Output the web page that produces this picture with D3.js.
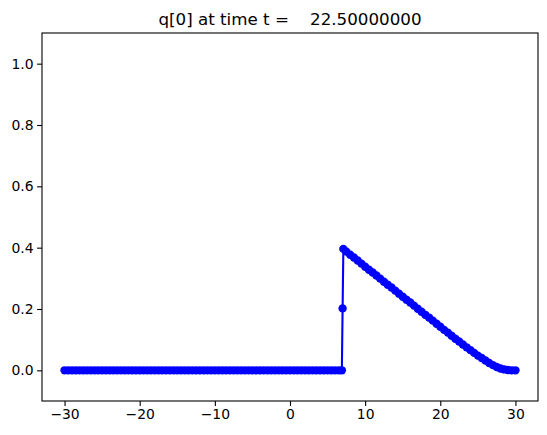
<!DOCTYPE html>
<html>
<head>
<meta charset="utf-8">
<script src="https://cdn.jsdelivr.net/npm/d3@7"></script>
<style>
    body { margin: 0; background: #fff; }
    text { font-family: "DejaVu Sans", sans-serif; fill: #000; }
</style>
</head>
<body>
<script>

// sample positions and q[0] values
var xs = [-30, -29.5, -29, -28.5, -28, -27.5, -27, -26.5, -26, -25.5, -25, -24.5, -24, -23.5, -23, -22.5,
    -22, -21.5, -21, -20.5, -20, -19.5, -19, -18.5, -18, -17.5, -17, -16.5, -16, -15.5, -15, -14.5,
    -14, -13.5, -13, -12.5, -12, -11.5, -11, -10.5, -10, -9.5, -9, -8.5, -8, -7.5, -7, -6.5,
    -6, -5.5, -5, -4.5, -4, -3.5, -3, -2.5, -2, -1.5, -1, -0.5, 0, 0.5,
    1, 1.5, 2, 2.5, 3, 3.5, 4, 4.5, 5, 5.5, 6, 6.5, 6.9, 7.0, 7.1, 7.5,
    8, 8.5, 9, 9.5, 10, 10.5, 11, 11.5, 12, 12.5, 13, 13.5, 14, 14.5, 15, 15.5,
    16, 16.5, 17, 17.5, 18, 18.5, 19, 19.5, 20, 20.5, 21, 21.5, 22, 22.5, 23, 23.5,
    24, 24.5, 25, 25.5, 26, 26.5, 27, 27.5, 28, 28.5, 29, 29.5, 30];

var qs = [0, 0, 0, 0, 0, 0, 0, 0, 0, 0, 0, 0, 0, 0, 0, 0,
    0, 0, 0, 0, 0, 0, 0, 0, 0, 0, 0, 0, 0, 0, 0, 0,
    0, 0, 0, 0, 0, 0, 0, 0, 0, 0, 0, 0, 0, 0, 0, 0,
    0, 0, 0, 0, 0, 0, 0, 0, 0, 0, 0, 0, 0, 0,
    0, 0, 0, 0, 0, 0, 0, 0, 0, 0, 0, 0, 0, 0.202, 0.396, 0.387,
    0.377, 0.368, 0.358, 0.348, 0.338, 0.328, 0.319, 0.309, 0.299, 0.289, 0.279, 0.270, 0.260, 0.250, 0.240, 0.230,
    0.221, 0.211, 0.201, 0.191, 0.181, 0.172, 0.162, 0.152, 0.142, 0.132, 0.123, 0.113, 0.103, 0.094, 0.084, 0.075,
    0.066, 0.057, 0.048, 0.040, 0.032, 0.024, 0.017, 0.011, 0.006, 0.003, 0.001, 0, 0];

var xTicks = [-30, -20, -10, 0, 10, 20, 30];
var yTicks = [0.0, 0.2, 0.4, 0.6, 0.8, 1.0];
var title = "q[0] at time t =    22.50000000";

var width = 547, height = 435;
var margin = {top: 33, right: 9, bottom: 34, left: 42};

var svg = d3.select("body")
    .append("svg")
    .attr("width", width)
    .attr("height", height);

var x = d3.scaleLinear()
    .domain([-33, 33])
    .range([margin.left, width - margin.right]);

var y = d3.scaleLinear()
    .domain([-0.1, 1.1])
    .range([height - margin.bottom, margin.top]);

var points = xs.map(function(d, i) { return [d, qs[i]]; });

var plot = svg.append("g");

plot.append("path")
    .datum(points)
    .attr("fill", "none")
    .attr("stroke", "#0000ff")
    .attr("stroke-width", 2.1)
    .attr("d", d3.line()
        .x(function(d) { return x(d[0]); })
        .y(function(d) { return y(d[1]); }));

plot.selectAll("circle")
    .data(points)
    .enter().append("circle")
    .attr("cx", function(d) { return x(d[0]); })
    .attr("cy", function(d) { return y(d[1]); })
    .attr("r", 4.2)
    .attr("fill", "#0000ff");

// axes
var xAxis = svg.append("g")
    .attr("transform", "translate(0," + (height - margin.bottom) + ")")
    .call(d3.axisBottom(x).tickValues(xTicks).tickSize(4.9).tickPadding(3.5)
        .tickFormat(function(d) { return d < 0 ? "\u2212" + Math.abs(d) : d; }));

var yAxis = svg.append("g")
    .attr("transform", "translate(" + margin.left + ",0)")
    .call(d3.axisLeft(y).tickValues(yTicks).tickSize(4.9).tickPadding(3.5)
        .tickFormat(d3.format(".1f")));

[xAxis, yAxis].forEach(function(a) {
    a.select(".domain").remove();
    a.selectAll("line").attr("stroke", "#000").attr("stroke-width", 1.1);
    a.selectAll("text").style("font-size", "13.9px").style("font-family", "DejaVu Sans");
});

// frame
svg.append("rect")
    .attr("x", margin.left)
    .attr("y", margin.top)
    .attr("width", width - margin.left - margin.right)
    .attr("height", height - margin.top - margin.bottom)
    .attr("fill", "none")
    .attr("stroke", "#000")
    .attr("stroke-width", 1.1);

svg.append("text")
    .attr("x", (margin.left + width - margin.right) / 2)
    .attr("y", 24.5)
    .attr("text-anchor", "middle")
    .style("font-size", "16.7px")
    .style("white-space", "pre")
    .text(title);

</script>
</body>
</html>
